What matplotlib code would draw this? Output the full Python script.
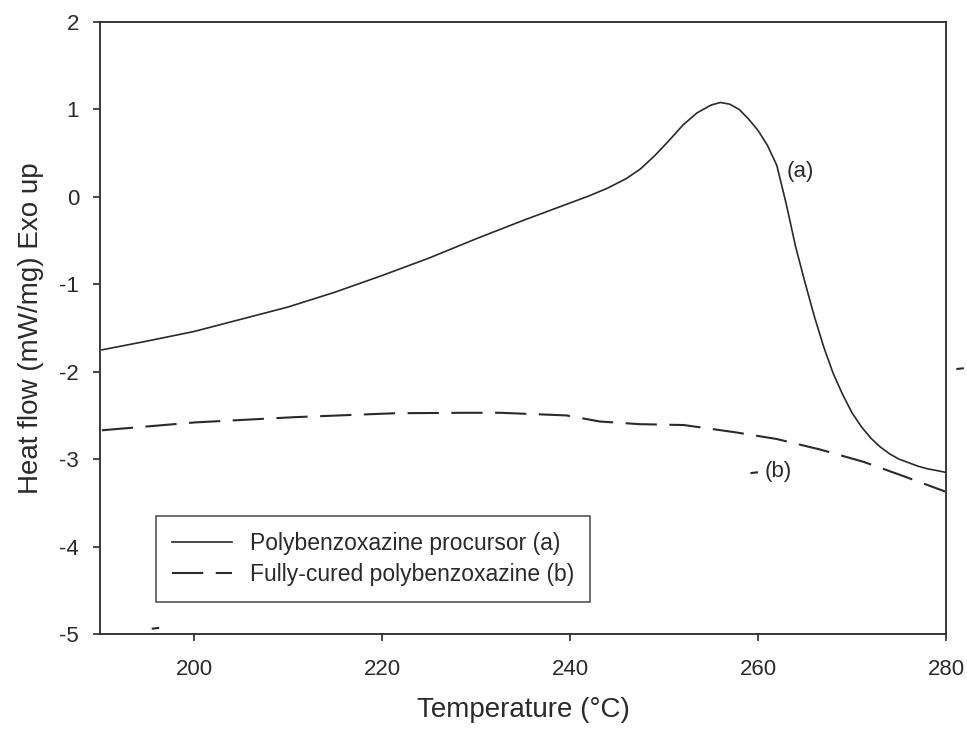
import matplotlib
matplotlib.use("Agg")
import matplotlib.pyplot as plt

plt.rcParams['font.family'] = ['Liberation Sans', 'DejaVu Sans']
plt.rcParams['axes.unicode_minus'] = False

# Curve (a): polybenzoxazine precursor
temp_a = [190.2, 195, 200, 205, 210, 215, 220, 225, 230, 235, 240, 242, 244, 246,
          247.5, 249, 250.5, 252, 253.5, 255, 256, 257, 258, 259, 260, 261,
          262, 263, 264, 265, 266, 267, 268, 269, 270, 271, 272, 273, 274, 275,
          276, 277, 278, 279, 279.9]
heat_a = [-1.75, -1.65, -1.54, -1.40, -1.26, -1.09, -0.90, -0.70, -0.48, -0.27,
          -0.07, 0.01, 0.10, 0.21, 0.32, 0.47, 0.64, 0.82, 0.96, 1.05, 1.08, 1.06,
          1.00, 0.89, 0.76, 0.59, 0.36, -0.08, -0.57, -0.98, -1.37, -1.72,
          -2.02, -2.26, -2.47, -2.63, -2.76, -2.86, -2.94, -3.00, -3.04, -3.08,
          -3.11, -3.13, -3.15]

# Curve (b): fully-cured polybenzoxazine
temp_b = [190.2, 200.1, 210.7, 221.4, 228.5, 232.6, 237.3, 239.6, 243.2, 247.4,
          252.1, 257.4, 262.0, 266.6, 271.2, 275.1, 279.9]
heat_b = [-2.67, -2.58, -2.52, -2.475, -2.47, -2.47, -2.49, -2.50, -2.57, -2.60,
          -2.61, -2.69, -2.77, -2.89, -3.03, -3.18, -3.37]

x_ticks = [200, 220, 240, 260, 280]
y_ticks = [-5, -4, -3, -2, -1, 0, 1, 2]
series_labels = ["Polybenzoxazine procursor (a)", "Fully-cured polybenzoxazine (b)"]
curve_tags = ["(a)", "(b)"]
tag_pos_x = [264.5, 262.2]
tag_pos_y = [0.29, -3.14]

# small stray marks present in the scanned figure
stray_x = [281.5, 259.6, 195.9]
stray_y = [-1.97, -3.16, -4.94]

ink = '#2a2a2a'

fig = plt.figure(figsize=(9.67, 7.37), dpi=100)
ax = fig.add_axes([0.1034, 0.1398, 0.8749, 0.8303])

ax.plot(temp_a, heat_a, color=ink, lw=1.2, label=series_labels[0])
ax.plot(temp_b, heat_b, color=ink, lw=1.5, dashes=(15, 6), label=series_labels[1])

for sx, sy in zip(stray_x, stray_y):
    ax.plot([sx - 0.4, sx + 0.4], [sy, sy + 0.01], color=ink, lw=1.5,
            clip_on=False, solid_capstyle='butt')

for t, px, py in zip(curve_tags, tag_pos_x, tag_pos_y):
    ax.text(px, py, t, fontsize=16, color=ink, ha='center', va='center')

ax.set_xlim(190, 280)
ax.set_ylim(-5, 2)
ax.set_xticks(x_ticks)
ax.set_yticks(y_ticks)
ax.tick_params(direction='out', length=5, width=1.2, colors=ink, labelsize=16,
               pad=10, top=False, right=False)
ax.tick_params(axis='x', pad=13)
for s in ax.spines.values():
    s.set_linewidth(1.3)
    s.set_color(ink)

ax.set_xlabel("Temperature (°C)", fontsize=20, color=ink, labelpad=12)
ax.set_ylabel("Heat flow (mW/mg) Exo up", fontsize=20, color=ink, labelpad=11)

leg = ax.legend(loc='lower left', bbox_to_anchor=(0.0662, 0.0523), borderaxespad=0,
                fontsize=16.5, frameon=True, fancybox=False, handlelength=2.6,
                handletextpad=0.8, borderpad=0.7, labelspacing=0.35)
leg.get_frame().set_edgecolor(ink)
leg.get_frame().set_linewidth(1.2)
for txt in leg.get_texts():
    txt.set_color(ink)

fig.savefig("out.png", dpi=100, facecolor='white')
